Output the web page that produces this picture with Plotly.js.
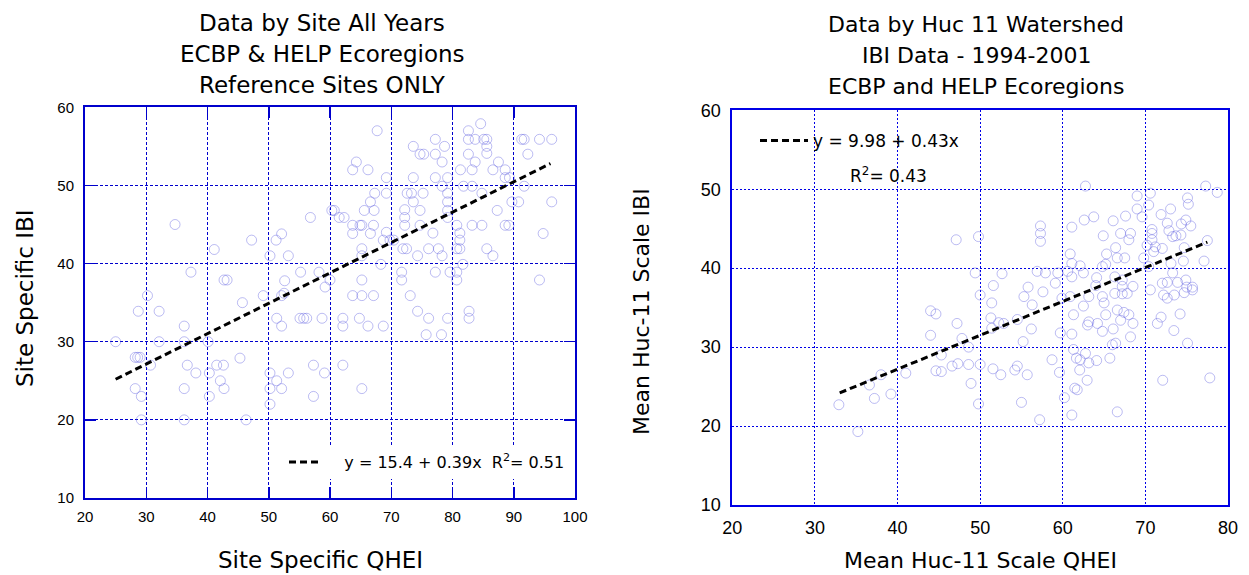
<!DOCTYPE html>
<html>
<head>
<meta charset="utf-8">
<script src="https://cdn.plot.ly/plotly-3.0.1.min.js"></script>
<style>html,body{margin:0;padding:0;background:#fff}#chart{width:1249px;height:575px}</style>
</head>
<body>
<div id="chart"></div>
<script>
// ---------- Left panel: Site Specific QHEI vs IBI ----------
const siteQHEI = [34.7,41.1,47.2,51.2,52.1,50.2,53.2,56.8,37.3,42.7,43.2,30.2,45.7,49.1,52.1,52.5,55.2,58.2,52.6,59.2,60,
28.7,32.1,36.2,25,32.1,36.2,40.1,28.2,28.6,29,30.7,36.7,38.1,40.3,41.5,42.6,45.3,42.1,42.7,28.2,29.2,36.2,40.3,50.2,51.3,50.2,52.1,53.2,50.2,29.2,36.2,46.3,51.3,52.1,55.1,55.7,56.2,58.7,57.3,59.1,57.3,
62.1,65.2,63.7,65.2,67.1,73.1,62.1,62.1,64.8,66.2,68.7,74.3,76.1,79.2,75.7,78.2,82.7,82.7,
67.7,84.6,82.6,82.6,83.7,85.1,85.6,91.3,91.7,94.2,96.2,85.6,85.6,82.6,83.7,87.5,92.3,81.3,83.2,86.6,88.6,88.6,89.3,77.2,78.7,73.6,74.7,75.3,77.2,78.3,64.3,63.7,66.2,69.2,73.6,77.2,79.2,67.3,69.2,72.6,73.3,75.2,78.3,79.2,81.8,83.2,84.8,66.6,67.2,65.6,60.3,60.7,61.5,62.3,63.7,64.9,65.2,67.1,63.7,66.6,69.2,72.2,72.2,72.2,73.6,74.7,74.7,76.8,79.2,79.2,79.2,80.7,81.2,81.2,83.2,84.8,87.3,88.6,89.2,89.7,90.8,91.7,96.2,94.8,80.7,81.2,85.6,86.6,81.7,79.6,80.7,80.7,77.2,74.3,76.1,77.7,78.3,72.5,71.9,71.7,71.7,69.8,70.4,68.7,65.2,65.2,68.3,65.2,94.2];
const siteIBI = [45,41.8,43,43,43.8,41,41,45.9,38.9,37.9,37.9,35.9,35,35.9,35.9,36.2,38.9,38.9,37.8,37,37.9,
33.9,33.9,32,30,30,30,30,28,28,28,27,27,26,26,27,27,27.9,25,24,24,23,24,23,26,25,24,24,26,22,20,20,20,33,32,33,33,33,33,27,26,23,
27,24,35.9,35.9,35.9,35.9,33,32,33,32,32,33.9,33,33,30.9,30.9,33.9,33,
57,57.9,57,55.9,55.9,55.9,55.9,55.9,55.9,55.9,55.9,55,54.1,54,53,53,54,52,52,52,52,51,51,55.9,55,55,54,54,54,53,53,52,52,51,51,51,51,49,49,49,49,49,49.9,49,49.9,49.9,49,47.9,46.8,46.8,46.8,46.8,45.9,45.9,44.9,44.9,44.9,44.9,43.85,43.85,44,46.9,45.9,44.9,47.9,46.8,44.9,43.9,47.9,46.8,45.9,44.9,43.9,43,44.9,44.9,46.8,44.9,44.9,47.9,47.9,49.9,47.9,43.85,41.9,41.9,41.9,41,39.9,38.9,38.9,37.9,38.9,41,41.9,41.9,41,41.9,41.9,38.9,37.9,43,43,43,41.9,41,39.9,37.9,37.9];
const siteFitX = [25, 96];
const siteFitY = [25.2, 52.8];
const siteFitLabel = "&nbsp;&nbsp;&nbsp;&nbsp;y = 15.4 + 0.39x &nbsp;R<sup>2</sup>= 0.51";

// ---------- Right panel: Mean Huc-11 QHEI vs IBI ----------
const hucQHEI = [47.1,49.8,49.4,50,
32.9,35.2,37.2,39.2,36.6,38,41,44,44.65,44,47.2,47.8,48.6,45.3,44.65,45.3,46.6,47.3,48.6,48.9,50,49.8,
62.75,77.3,78.7,69,70.6,70.4,69,75.1,75.2,73.05,71.9,69.6,67.6,66.1,63.75,62.6,61.1,57.3,57.3,57.3,64.9,67,68.2,68,66.4,70.8,70.8,70.8,71.2,70.2,72.05,72.65,72.85,73.3,73.7,74.3,74.35,74.9,75.5,74.7,77.5,74.6,77.1,73.1,73.3,71,69.8,70.4,65.3,66.6,67.5,60.9,61.1,62.1,62.5,65.2,64.8,64.1,66.3,67.2,67.2,68.5,60.6,61.1,59.4,59.1,57.9,56.9,57.6,55.8,55.3,52.65,51.6,72.05,72.65,73.9,74.9,75,75.7,74.7,70.6,72.2,73.5,66.3,67.8,64,64.8,63.15,60.9,
59.9,67.2,72.65,75.7,
51.4,56.3,62.5,65,66.6,67.4,65.2,64.2,63,63.15,61.3,64.8,66.1,67,68,68.5,68.2,66,66.4,61.1,59.7,56.2,54.5,52.85,52.25,51.3,51.4,55.2,61.3,61.65,62.1,62.75,63.15,64.1,65.7,62.05,62.95,58.7,59.6,54.5,54.2,55.7,52.5,51.55,55,57.2,60.2,61.1,61.45,61.75,66.6,72.1,77.8,71.45,71.9,73.45,74.2,75.1];
const hucIBI = [43.6,44,39.4,36.6,
22.7,19.3,23.5,24.05,25.2,26.5,26.7,34.6,34.2,31.5,33,31.1,30,29,27,26.9,27.6,27.9,27.8,25.4,27.8,22.8,
50.4,50.4,49.6,49.15,49.5,48,47.5,48.9,48.1,47.5,46.8,46.5,46.6,46,46.5,46.1,45.2,45.35,44.4,43.4,44.1,44.4,44.4,43.6,42.6,44.9,44.4,43.6,42.7,42.9,42.5,45.7,44.75,44,44.1,44.2,45.6,46.1,45.35,42.6,43.5,40.9,40.9,40.6,39.4,42.1,41.3,40.2,41.8,41.3,41.3,41.8,40.6,40.3,39.4,40.5,40.2,38.8,38.9,38.5,37.7,37.7,39.6,38.9,39.4,38.1,39.4,39.6,37,37.6,36.4,39.3,37.8,38.1,38.2,38.2,38.5,37.6,37.6,36.9,37.25,36.6,36.6,36.8,36.8,37.8,36.4,36.4,36.4,
36.2,36.75,36.2,37.25,
35.6,35.35,35.2,35.6,34.7,34.4,34.1,33,32.8,33.2,34.1,32,32.3,33.4,34.1,33,31.3,30.3,30.5,31.65,31.8,32.3,33.5,33,33.1,33.7,32.4,30.7,29.7,28.6,28.4,29.2,28,28.3,28.6,27.1,25.8,28.4,26.8,27.6,27.1,26.5,26.5,27.25,23,20.8,23.6,21.4,24.8,24.6,21.8,25.8,26.1,33,33.8,32.1,34.2,30.5];
const hucFitX = [33, 77.5];
const hucFitY = [24.2, 43.3];
const hucFitLabel = "y = 9.98 + 0.43x";
const hucR2Label = "R<sup>2</sup>= 0.43";

// ---------- Text ----------
const leftTitleLines = ["Data by Site All Years", "ECBP &amp; HELP Ecoregions", "Reference Sites ONLY"];
const rightTitleLines = ["Data by Huc 11 Watershed", "IBI Data - 1994-2001", "ECBP and HELP Ecoregions"];
const leftXTitle = "Site Specific QHEI";
const leftYTitle = "Site Specific IBI";
const rightXTitle = "Mean Huc-11 Scale QHEI";
const rightYTitle = "Mean Huc-11 Scale IBI";

// ---------- Layout helpers ----------
const W = 1249, H = 575;
const px = v => v / W;
const py = v => (H - v) / H;
const titleFont = {family: "DejaVu Sans", size: 22, color: "#000"};
const markerStyle = {symbol: "circle-open", size: 10, color: "rgba(95,95,225,0.42)", line: {width: 1}};

const traces = [
  {x: siteQHEI, y: siteIBI, xaxis: "x", yaxis: "y", type: "scatter", mode: "markers", marker: markerStyle, showlegend: false, hoverinfo: "skip"},
  {x: siteFitX, y: siteFitY, xaxis: "x", yaxis: "y", type: "scatter", mode: "lines", line: {color: "#000", width: 3, dash: "7px,4px"}, name: siteFitLabel, legend: "legend", showlegend: true, hoverinfo: "skip"},
  {x: hucQHEI, y: hucIBI, xaxis: "x2", yaxis: "y2", type: "scatter", mode: "markers", marker: markerStyle, showlegend: false, hoverinfo: "skip"},
  {x: hucFitX, y: hucFitY, xaxis: "x2", yaxis: "y2", type: "scatter", mode: "lines", line: {color: "#000", width: 3, dash: "7px,4px"}, name: hucFitLabel, legend: "legend2", showlegend: true, hoverinfo: "skip"}
];

function axisBase(color, dash, ticks, fontSize) {
  return {
    dtick: 10, tick0: 0, showgrid: true, gridcolor: color, griddash: dash, gridwidth: 1,
    showline: true, linecolor: color, linewidth: 2, mirror: ticks ? "ticks" : true,
    ticks: ticks ? "inside" : "", ticklen: 11, tickwidth: 1.5, tickcolor: color,
    zeroline: false, fixedrange: true,
    tickfont: {family: "Liberation Sans, Arial, sans-serif", size: fontSize, color: "#000"}
  };
}

const annotations = [];
leftTitleLines.forEach((t, i) => annotations.push({text: t, xref: "paper", yref: "paper", x: px(322), y: py([23, 54, 85][i]), xanchor: "center", yanchor: "middle", showarrow: false, font: {family: "DejaVu Sans", size: 23, color: "#000"}}));
rightTitleLines.forEach((t, i) => annotations.push({text: t, xref: "paper", yref: "paper", x: px(976), y: py([24.7, 55.7, 86.4][i]), xanchor: "center", yanchor: "middle", showarrow: false, font: titleFont}));
annotations.push({text: leftXTitle, xref: "paper", yref: "paper", x: px(320), y: py(560), xanchor: "center", yanchor: "middle", showarrow: false, font: {family: "DejaVu Sans", size: 23, color: "#000"}});
annotations.push({text: rightXTitle, xref: "paper", yref: "paper", x: px(980), y: py(560), xanchor: "center", yanchor: "middle", showarrow: false, font: titleFont});
annotations.push({text: leftYTitle, xref: "paper", yref: "paper", x: px(25), y: py(298), xanchor: "center", yanchor: "middle", textangle: -90, showarrow: false, font: {family: "DejaVu Sans", size: 23, color: "#000"}});
annotations.push({text: rightYTitle, xref: "paper", yref: "paper", x: px(641), y: py(311), xanchor: "center", yanchor: "middle", textangle: -90, showarrow: false, font: titleFont});
annotations.push({text: hucR2Label, xref: "paper", yref: "paper", x: px(848), y: py(175), xanchor: "left", yanchor: "middle", showarrow: false, font: {family: "DejaVu Sans", size: 17, color: "#000"}});

const layout = {
  width: W, height: H, autosize: false,
  margin: {l: 0, r: 0, t: 0, b: 0, pad: 0},
  paper_bgcolor: "#fff", plot_bgcolor: "#fff",
  xaxis: Object.assign(axisBase("#0000cc", "3px,2px", true, 15), {range: [20, 100], domain: [px(85), px(575)], anchor: "y", ticklabelstandoff: 4}),
  yaxis: Object.assign(axisBase("#0000cc", "3px,2px", true, 15), {range: [10, 60], domain: [py(498), py(107.3)], anchor: "x", ticklabelstandoff: 6}),
  xaxis2: Object.assign(axisBase("#0000e6", "2px,2px", false, 18), {range: [20, 80], domain: [px(732.3), px(1228)], anchor: "y2", ticklabelstandoff: 5}),
  yaxis2: Object.assign(axisBase("#0000e6", "2px,2px", false, 18), {range: [10, 60], domain: [py(505), py(110.3)], anchor: "x2", ticklabelstandoff: 6}),
  legend: {x: px(284), y: py(462), xanchor: "left", yanchor: "middle", bgcolor: "#fff", borderwidth: 0, itemwidth: 30, font: {family: "DejaVu Sans", size: 16, color: "#000"}, itemclick: false, itemdoubleclick: false},
  legend2: {x: px(755), y: py(141), xanchor: "left", yanchor: "middle", bgcolor: "rgba(0,0,0,0)", borderwidth: 0, itemwidth: 48, font: {family: "DejaVu Sans", size: 17, color: "#000"}, itemclick: false, itemdoubleclick: false},
  annotations: annotations,
  hovermode: false
};

Plotly.newPlot("chart", traces, layout, {displayModeBar: false, staticPlot: true});
</script>
</body>
</html>
